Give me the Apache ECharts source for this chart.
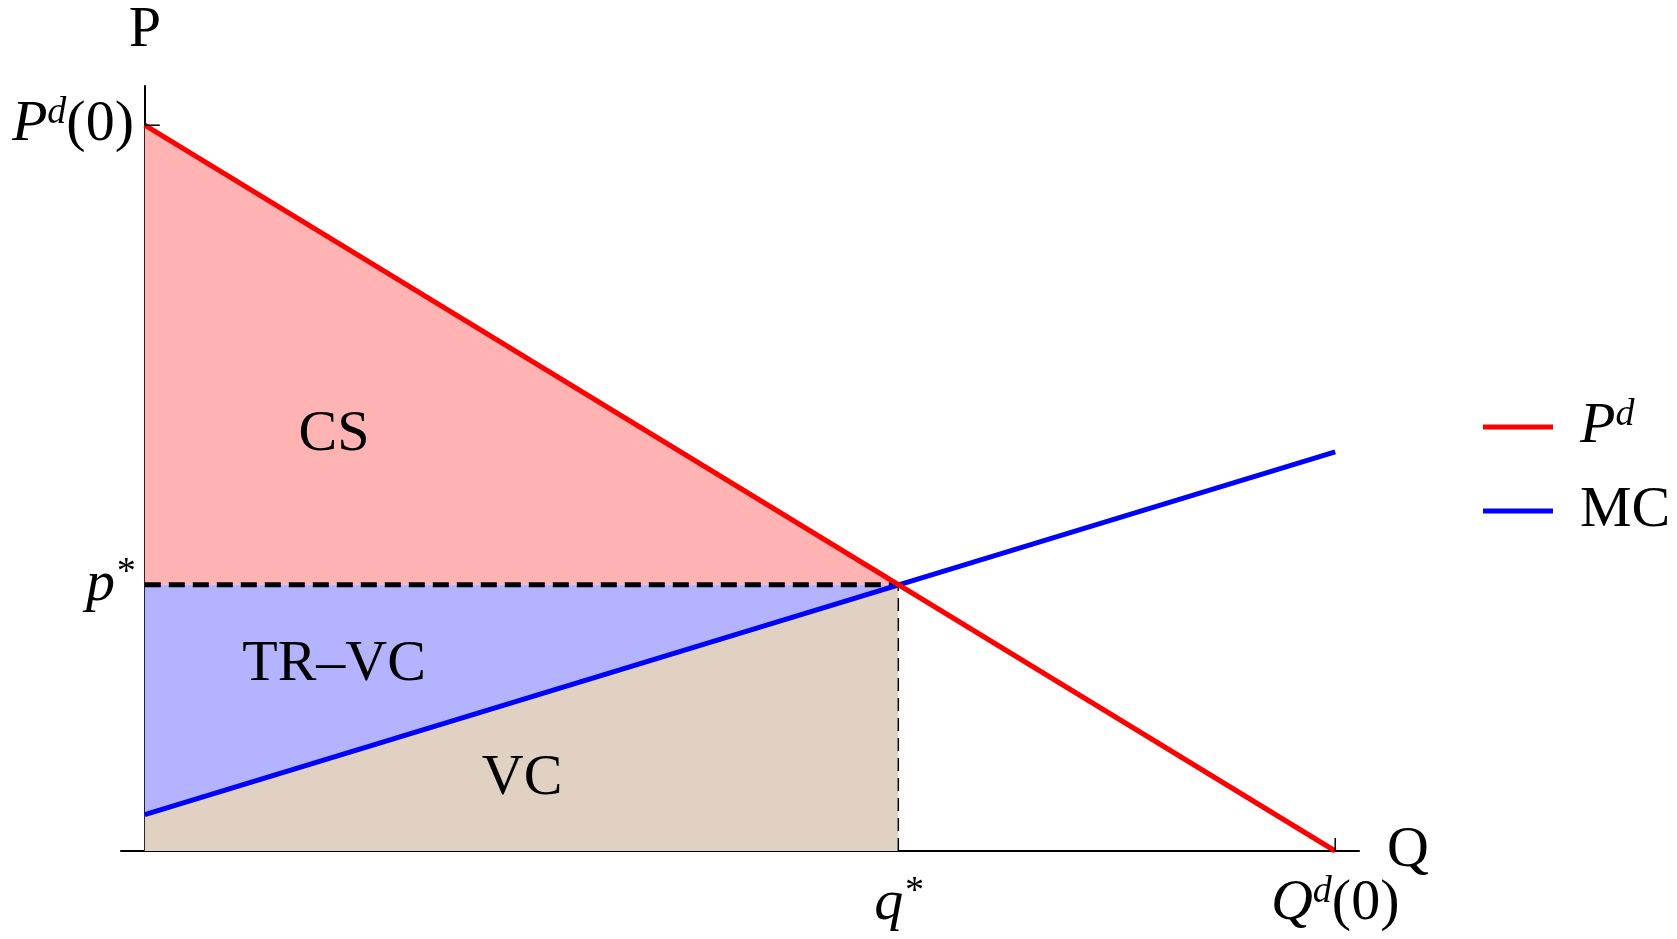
<!DOCTYPE html>
<html>
<head>
<meta charset="utf-8">
<script src="https://cdn.jsdelivr.net/npm/echarts@6/dist/echarts.min.js"></script>
<style>
  html, body { margin: 0; padding: 0; background: #fff; }
  #chart { width: 1677px; height: 939px; }
</style>
</head>
<body>
<div id="chart"></div>
<script>
// curves (Q, P)
const demandPts = [[0, 1], [1, 0]];
const mcPts = [[0, 0.05], [1, 0.55]];
const qStar = 0.633;
const pStar = 0.367;

// shaded regions
const csArea = [[0, 1], [0.633, 0.367], [0, 0.367]];
const trvcArea = [[0, 0.367], [0.633, 0.367], [0, 0.05]];
const vcArea = [[0, 0], [0, 0.05], [0.633, 0.367], [0.633, 0]];

// region labels: text, Q, P
const areaLabels = [['CS', 0.159, 0.573], ['TR–VC', 0.159, 0.257], ['VC', 0.317, 0.1]];

// tick labels
const yTickVals = [0.367, 1];
const yTickText = ['{i|p}{sup|*}', '{i|P}{sup|d}{n|(0)}'];
const xTickVals = [0.633, 1];
const xTickText = ['{i|q}{sup|*}', '{i|Q}{sup|d}{n|(0)}'];

const FONT = 'Liberation Serif';
const FS = 58;
const rich = {
  n: { fontFamily: FONT, fontSize: FS, color: '#000', lineHeight: 62 },
  i: { fontFamily: FONT, fontSize: FS, fontStyle: 'italic', color: '#000', lineHeight: 62 },
  sup: { fontFamily: FONT, fontSize: 38, fontStyle: 'italic', color: '#000', verticalAlign: 'top', lineHeight: 62 }
};

const polygon = (pts, fill) => ({
  type: 'custom',
  silent: true,
  data: [0],
  z: 1,
  renderItem: (params, api) => ({
    type: 'polygon',
    shape: { points: pts.map(p => api.coord(p)) },
    style: { fill: fill }
  })
});

const chart = echarts.init(document.getElementById('chart'));

chart.setOption({
  animation: false,
  backgroundColor: '#fff',
  grid: { left: 121, right: 318, top: 86, bottom: 88, containLabel: false, outerBoundsMode: 'none' },
  xAxis: {
    type: 'value',
    min: -0.02,
    max: 1.02,
    name: 'Q',
    nameLocation: 'end',
    nameGap: 28,
    nameMoveOverlap: false,
    nameTextStyle: { fontFamily: FONT, fontSize: FS, color: '#000', verticalAlign: 'middle' },
    axisLine: { lineStyle: { color: '#000', width: 2 } },
    axisTick: { show: false },
    axisLabel: {
      customValues: xTickVals,
      margin: 22,
      fontFamily: FONT, fontSize: FS, color: '#000',
      formatter: v => xTickText[xTickVals.indexOf(v)],
      rich: rich
    },
    splitLine: { show: false }
  },
  yAxis: {
    type: 'value',
    min: 0,
    max: 1.054,
    name: 'P',
    nameLocation: 'end',
    nameGap: 26,
    nameTextStyle: { fontFamily: FONT, fontSize: FS, color: '#000' },
    axisLine: { onZero: true, lineStyle: { color: '#000', width: 2 } },
    axisTick: { show: false },
    axisLabel: {
      customValues: yTickVals,
      margin: -13,
      fontFamily: FONT, fontSize: FS, color: '#000',
      formatter: v => yTickText[yTickVals.indexOf(v)],
      rich: rich
    },
    splitLine: { show: false }
  },
  legend: [
    {
      data: ['Pd'], orient: 'vertical', left: 1483, top: 396, padding: 0,
      icon: 'rect', itemWidth: 70, itemHeight: 5,
      formatter: () => '{i|P}{sup|d}',
      textStyle: { fontFamily: FONT, fontSize: FS, color: '#000', padding: [0, 0, 0, 22], rich: rich }
    },
    {
      data: ['MC'], orient: 'vertical', left: 1483, top: 480, padding: 0,
      icon: 'rect', itemWidth: 70, itemHeight: 5,
      textStyle: { fontFamily: FONT, fontSize: FS, color: '#000', lineHeight: 62, padding: [0, 0, 0, 22] }
    }
  ],
  series: [
    polygon(csArea, '#ffb3b3'),
    polygon(trvcArea, '#b3b3ff'),
    polygon(vcArea, '#e0d1c2'),
    {
      type: 'custom',
      silent: true,
      z: 3,
      data: areaLabels.map(a => [a[1], a[2]]),
      renderItem: (params, api) => {
        const pt = api.coord([api.value(0), api.value(1)]);
        return {
          type: 'text',
          x: pt[0],
          y: pt[1],
          style: {
            text: areaLabels[params.dataIndex][0],
            fontFamily: FONT, fontSize: FS, fill: '#000',
            align: 'center', verticalAlign: 'middle'
          }
        };
      }
    },
    {
      // small inward ticks at P^d(0) and Q^d(0)
      type: 'custom',
      silent: true,
      z: 6,
      data: [0],
      renderItem: (params, api) => {
        const py = api.coord([0, 1]);
        const qx = api.coord([1, 0]);
        return {
          type: 'group',
          children: [
            { type: 'line', shape: { x1: py[0], y1: py[1], x2: py[0] + 15, y2: py[1] }, style: { stroke: '#000', lineWidth: 1.5 } },
            { type: 'line', shape: { x1: qx[0], y1: qx[1], x2: qx[0], y2: qx[1] - 13 }, style: { stroke: '#000', lineWidth: 1.5 } }
          ]
        };
      }
    },
    {
      type: 'line',
      silent: true,
      symbol: 'none',
      z: 4,
      data: [[0, pStar], [qStar, pStar]],
      lineStyle: { color: '#000', width: 5, type: [16, 8] }
    },
    {
      type: 'line',
      silent: true,
      symbol: 'none',
      z: 4,
      data: [[qStar, 0], [qStar, pStar]],
      lineStyle: { color: '#000', width: 1.5, type: [13, 7] }
    },
    {
      name: 'MC',
      type: 'line',
      symbol: 'none',
      clip: false,
      z: 5,
      color: '#0000ff',
      data: mcPts,
      lineStyle: { color: '#0000ff', width: 5 }
    },
    {
      name: 'Pd',
      type: 'line',
      symbol: 'none',
      clip: false,
      z: 5,
      color: '#ff0000',
      data: demandPts,
      lineStyle: { color: '#ff0000', width: 5 }
    }
  ]
});

window.addEventListener('resize', () => chart.resize());
</script>
</body>
</html>
